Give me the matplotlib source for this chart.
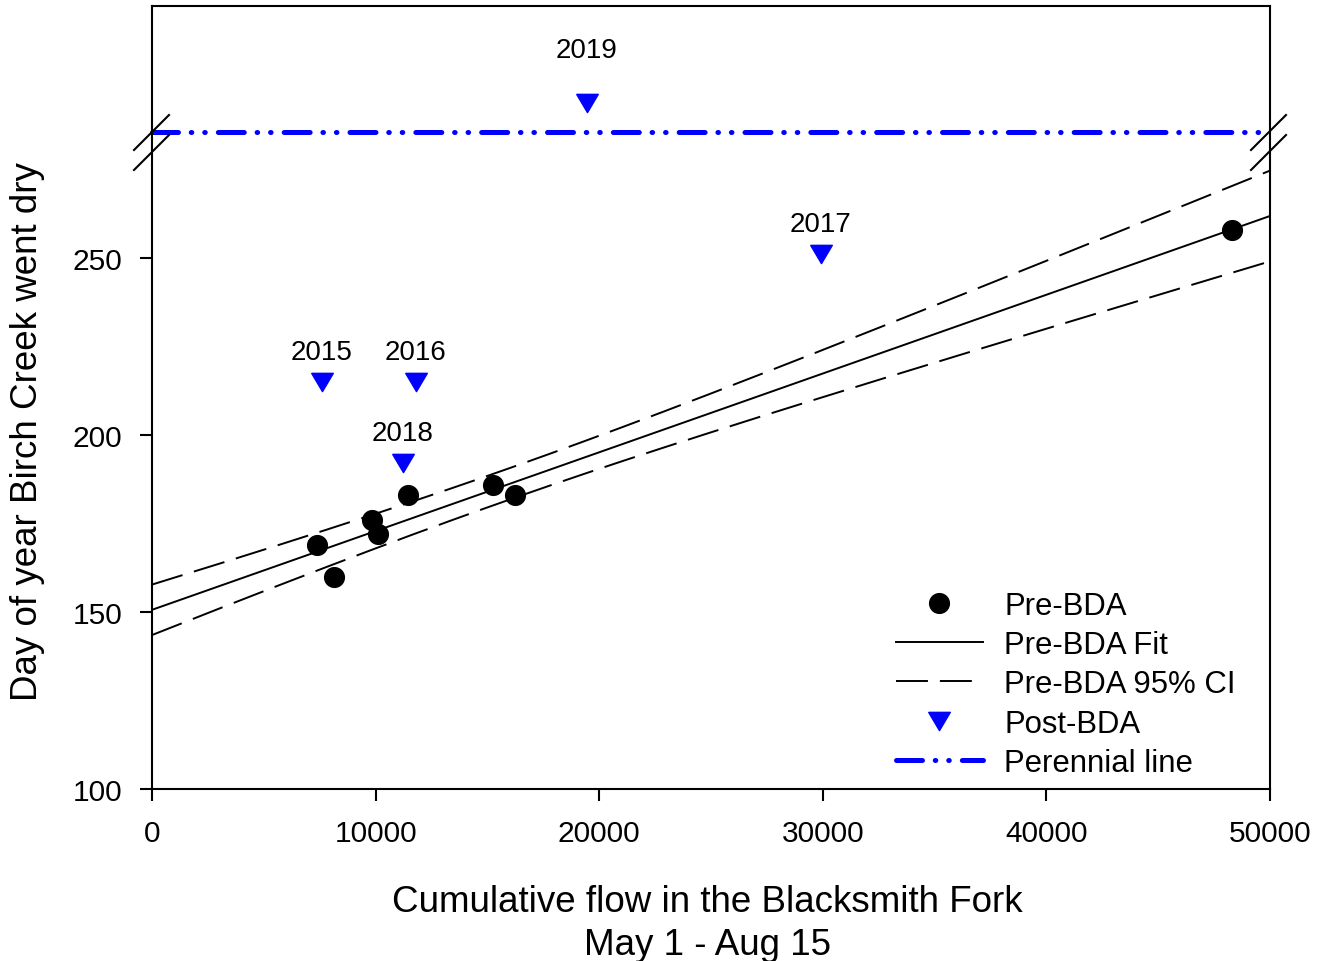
import numpy as np
import matplotlib
matplotlib.use("Agg")
import matplotlib.pyplot as plt
from matplotlib.lines import Line2D

plt.rcParams['font.family'] = ['Liberation Sans', 'DejaVu Sans']
plt.rcParams['lines.scale_dashes'] = False

# Pre-BDA observations (cumulative flow, day of year went dry)
pre_flow = [7390, 8150, 9850, 10120, 11440, 15240, 16250, 48310]
pre_day = [169, 160, 176, 172, 183, 186, 183, 258]

# Post-BDA observations
post_years = ['2015', '2016', '2017', '2018', '2019']
post_flow = [7590, 11790, 29910, 11210, 19440]
post_day = [215, 215, 251, 192, 293.8]   # 2019 sits above the axis break (perennial)
label_offsets = [16.6, 16.6, 16.6, 16.6, 33]  # points above marker

perennial_y = 285.6

# linear fit and 95% confidence band of the pre-BDA data
x = np.array(pre_flow, float)
y = np.array(pre_day, float)
n = len(x)
slope, intercept = np.polyfit(x, y, 1)
resid = y - (intercept + slope * x)
s = np.sqrt(np.sum(resid ** 2) / (n - 2))
sxx = np.sum((x - x.mean()) ** 2)
t_crit = 2.4469  # t(0.975, df=6)
xf = np.linspace(0, 50000, 200)
yf = intercept + slope * xf
half = t_crit * s * np.sqrt(1.0 / n + (xf - x.mean()) ** 2 / sxx)

W, H = 1318, 962
fig = plt.figure(figsize=(W / 100, H / 100), dpi=100)
ax = fig.add_axes([152 / W, 1 - 790 / H, (1270 - 152) / W, (790 - 7) / H])

ax.plot(xf, yf, color='black', lw=1.4, label='Pre-BDA Fit', zorder=2)
ax.plot(xf, yf + half, color='black', lw=1.4, dashes=(23, 8.6), label='Pre-BDA 95% CI', zorder=2)
ax.plot(xf, yf - half, color='black', lw=1.4, dashes=(23, 8.6), zorder=2)
ax.plot(pre_flow, pre_day, 'o', color='black', ms=14.2, ls='none', label='Pre-BDA', zorder=3)

tri = [(-1, 0.845), (1, 0.845), (0, -0.845), (-1, 0.845)]
ax.plot(post_flow, post_day, marker=tri, color='#0000ff', ms=15.6, ls='none',
        label='Post-BDA', zorder=3)
for xx, yy, lab, off in zip(post_flow, post_day, post_years, label_offsets):
    ax.annotate(lab, (xx, yy), xytext=(0, off), textcoords='offset points',
                ha='center', va='baseline', fontsize=20)

ax.plot([0, 50000], [perennial_y, perennial_y], color='#0000ff', lw=3.6,
        dashes=(18.7, 9.2, 0.4, 9.3, 0.4, 9.4), dash_capstyle='round',
        label='Perennial line', clip_on=False, zorder=2)

ax.set_xlim(0, 50000)
ax.set_ylim(100, 321.2)
ax.set_xticks([0, 10000, 20000, 30000, 40000, 50000])
ax.set_yticks([100, 150, 200, 250])
ax.tick_params(direction='out', length=8.5, width=1.5, labelsize=21.5)
ax.tick_params(axis='y', pad=13)
ax.tick_params(axis='x', pad=13)
for sp in ax.spines.values():
    sp.set_linewidth(1.5)

# legend in requested order
h, l = ax.get_legend_handles_labels()
order = ['Pre-BDA', 'Pre-BDA Fit', 'Pre-BDA 95% CI', 'Post-BDA', 'Perennial line']
hd = dict(zip(l, h))
ax.legend([hd[k] for k in order], order, loc='lower right',
          bbox_to_anchor=(1236 / W, 1 - 779 / H), bbox_transform=fig.transFigure,
          frameon=False, fontsize=22.4, handlelength=2.8, handletextpad=0.7,
          labelspacing=0.3, borderpad=0, borderaxespad=0)

# axis break marks
for cx in (152, 1269):
    for cy in (133, 153):
        fig.add_artist(Line2D([(cx - 18) / W, (cx + 17) / W],
                              [1 - (cy + 18) / H, 1 - (cy - 17) / H],
                              color='black', lw=1.5))

fig.text(28 / W, 1 - 431.5 / H, 'Day of year Birch Creek went dry', rotation=90,
         ha='center', va='center', fontsize=26.5)
fig.text(707 / W, 1 - 911.7 / H, 'Cumulative flow in the Blacksmith Fork',
         ha='center', va='baseline', fontsize=26.5)
fig.text(707 / W, 1 - 955 / H, 'May 1 - Aug 15', ha='center', va='baseline', fontsize=26.5)

fig.savefig('out.png', dpi=100)
